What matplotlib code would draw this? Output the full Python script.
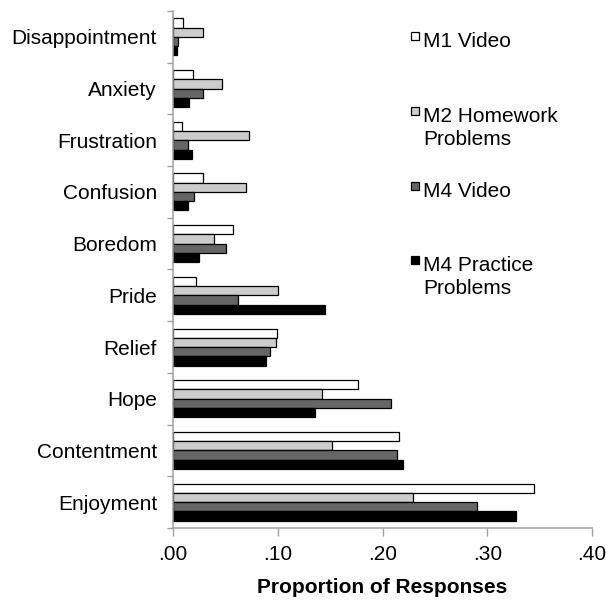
import numpy as np
import matplotlib
matplotlib.use("Agg")
import matplotlib.pyplot as plt
from matplotlib.patches import Rectangle
from matplotlib.ticker import FuncFormatter, MultipleLocator

plt.rcParams['font.family'] = ['Liberation Sans', 'DejaVu Sans']

emotions = ['Disappointment', 'Anxiety', 'Frustration', 'Confusion', 'Boredom',
            'Pride', 'Relief', 'Hope', 'Contentment', 'Enjoyment']

m1_video = [0.010, 0.019, 0.009, 0.029, 0.057, 0.022, 0.099, 0.177, 0.216, 0.345]
m2_homework = [0.029, 0.047, 0.073, 0.070, 0.039, 0.100, 0.098, 0.142, 0.152, 0.229]
m4_video = [0.005, 0.029, 0.014, 0.020, 0.051, 0.062, 0.093, 0.208, 0.214, 0.290]
m4_practice = [0.004, 0.015, 0.018, 0.014, 0.025, 0.145, 0.089, 0.136, 0.220, 0.327]

series = [m1_video, m2_homework, m4_video, m4_practice]
labels = ['M1 Video', 'M2 Homework\nProblems', 'M4 Video', 'M4 Practice\nProblems']
colors = ['#ffffff', '#cccccc', '#666666', '#000000']

W, H = 607, 600
fig = plt.figure(figsize=(W / 100, H / 100), dpi=100)
ax = fig.add_axes([173 / W, 1 - 528 / H, (592 - 173) / W, (528 - 11) / H])

y = np.arange(len(emotions))
h = 0.179
for k, vals in enumerate(series):
    ax.barh(y + (k - 1.5) * h, vals, height=h, color=colors[k],
            edgecolor='black', linewidth=0.9)

ax.set_xlim(0, 0.40)
ax.set_ylim(len(emotions) - 0.5, -0.5)
ax.xaxis.set_major_locator(MultipleLocator(0.10))
ax.xaxis.set_major_formatter(FuncFormatter(lambda v, p: f"{v:.2f}".lstrip('0')))

ax.set_yticks(y)
ax.set_yticklabels(emotions)
ax.set_yticks(np.arange(len(emotions) + 1) - 0.5, minor=True)
ax.tick_params(axis='y', which='major', length=0, pad=11.5, labelsize=15)
ax.tick_params(axis='y', which='minor', length=4, width=1, color='#a0a0a0')
ax.tick_params(axis='x', length=6, width=1, color='#a0a0a0', pad=6, labelsize=15)

for s in ['top', 'right']:
    ax.spines[s].set_visible(False)
for s in ['left', 'bottom']:
    ax.spines[s].set_color('#a0a0a0')
    ax.spines[s].set_linewidth(1.1)

ax.set_xlabel('Proportion of Responses', fontsize=15, fontweight='bold', labelpad=10)

# legend drawn by hand so markers sit beside the first line of text
baselines = [47, 122, 197, 271]
line_gap = 23
for k in range(4):
    yb = baselines[k]
    fig.patches.append(Rectangle((411 / W, 1 - (yb - 7) / H), 8 / W, 8 / H,
                                 transform=fig.transFigure, facecolor=colors[k],
                                 edgecolor='black', linewidth=0.9))
    for j, line in enumerate(labels[k].split('\n')):
        fig.text(423 / W, 1 - (yb + j * line_gap) / H, line, fontsize=15,
                 va='baseline', ha='left')

fig.savefig('out.png', dpi=100)
